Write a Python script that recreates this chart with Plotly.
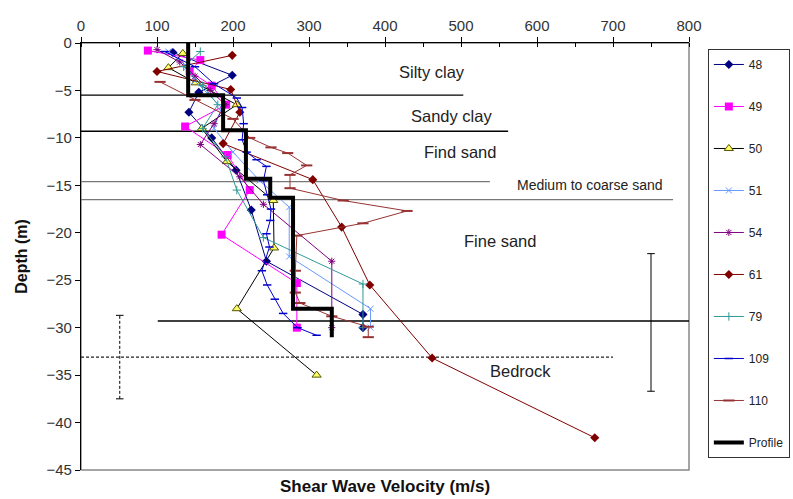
import plotly.graph_objects as go

# ---- measured shear wave velocity profiles (velocity m/s, depth m) ----
v48 = [121, 199, 155, 142, 172, 204, 224, 244, 371, 371]
d48 = [-1.0, -3.4, -5.2, -7.3, -10.0, -13.4, -17.6, -23.0, -28.6, -30.0]

v49 = [88, 157, 143, 172, 191, 137, 193, 222, 185, 284, 284]
d49 = [-0.8, -1.8, -3.0, -4.5, -6.5, -8.8, -11.8, -15.5, -20.2, -25.3, -30.0]

v50 = [134, 115, 151, 205, 159, 192, 253, 254, 205, 310]
d50 = [-1.1, -2.6, -4.2, -6.5, -9.0, -12.5, -16.6, -21.6, -28.0, -35.0]

v51 = [115, 140, 150, 185, 175, 200, 235, 274, 274, 381, 381]
d51 = [-0.9, -2.5, -4.0, -6.8, -9.0, -11.5, -14.5, -17.3, -22.5, -28.0, -30.0]

v54 = [100, 130, 150, 170, 190, 175, 157, 209, 240, 330, 330]
d54 = [-0.7, -2.0, -3.5, -5.0, -6.5, -8.5, -10.7, -14.1, -17.0, -23.0, -30.0]

v61 = [199, 100, 197, 209, 187, 305, 343, 380, 462, 676]
d61 = [-1.3, -3.0, -4.9, -7.3, -10.6, -14.4, -19.4, -25.5, -33.2, -41.6]

v79 = [157, 135, 160, 180, 160, 190, 205, 240, 371, 371]
d79 = [-0.9, -2.5, -4.5, -6.5, -9.0, -12.0, -15.5, -20.5, -25.4, -30.0]

v109 = [110, 150, 175, 205, 212, 214, 212, 218, 231, 244, 240, 245, 250, 249,
        244, 248, 238, 245, 255, 266, 285, 310]
d109 = [-0.9, -2.5, -4.3, -5.8, -6.8, -8.5, -10.2, -11.5, -12.3, -13.0, -14.5,
        -16.0, -17.5, -18.7, -20.1, -21.5, -24.0, -25.5, -27.0, -28.5, -30.0, -30.8]

v110 = [104, 150, 200, 222, 250, 272, 297, 275, 275, 345, 429, 371, 284, 282,
        282, 288, 330, 378, 378]
d110 = [-4.1, -6.0, -8.0, -10.0, -11.0, -11.6, -12.9, -13.9, -15.3, -16.6, -17.7,
        -19.0, -20.3, -24.0, -26.3, -27.4, -28.8, -29.9, -31.0]

# ---- interpreted profile: layer velocities and layer tops ----
profile_vel = [141, 187, 217, 249, 279, 330]
profile_top = [0, -5.5, -9.2, -14.3, -16.3, -28.0]
profile_base = -31.0

# ---- layer boundaries: depth, horizontal extent, style ----
bound_depth = [-5.5, -9.3, -14.6, -16.5, -29.3, -33.1]
bound_x0 = [0, 0, 0, 0, 101, 0]
bound_x1 = [503, 562, 538, 779, 800, 700]
bound_color = ["#000000", "#000000", "#777777", "#777777", "#000000", "#222222"]
bound_dash = ["solid", "solid", "solid", "solid", "solid", "3px,2px"]

# ---- layer names ----
layer_names = ["Silty clay", "Sandy clay", "Find sand", "Medium to coarse sand",
               "Fine sand", "Bedrock"]
layer_label_v = [462, 488, 499, 670, 551, 578]
layer_label_d = [-3.1, -7.7, -11.5, -15.0, -20.9, -34.6]
layer_label_size = [16.5, 16.5, 16.5, 14, 16.5, 16.5]

# ---- depth uncertainty bars (velocity, centre depth, half range) ----
bar_v = [51, 750]
bar_d = [-33.1, -29.45]
bar_half = [4.4, 7.25]
bar_dash = ["3px,2px", "solid"]

FONT = "Liberation Sans, Arial, sans-serif"

series = [
    ("48", v48, d48, "#000080", dict(symbol="diamond", size=7, color="#000080")),
    ("49", v49, d49, "#FF00FF", dict(symbol="square", size=8, color="#FF00FF")),
    ("50", v50, d50, "#000000", dict(symbol="triangle-up", size=8, color="#FFFF66",
                                     line=dict(color="#555500", width=1))),
    ("51", v51, d51, "#6699FF", dict(symbol="x-thin-open", size=6, color="#6699FF",
                                     line=dict(color="#6699FF", width=1))),
    ("54", v54, d54, "#800080", dict(symbol="asterisk-open", size=6, color="#800080",
                                     line=dict(color="#800080", width=1))),
    ("61", v61, d61, "#800000", dict(symbol="diamond", size=7, color="#800000")),
    ("79", v79, d79, "#339999", dict(symbol="cross-thin-open", size=6, color="#339999",
                                     line=dict(color="#339999", width=1))),
    ("109", v109, d109, "#0000CC", dict(symbol="line-ew-open", size=6, color="#0000CC",
                                        line=dict(color="#0000CC", width=1.5))),
    ("110", v110, d110, "#993333", dict(symbol="line-ew-open", size=8, color="#993333",
                                        line=dict(color="#993333", width=2))),
]

fig = go.Figure()

# layer boundary lines
for dep, x0, x1, col, dash in zip(bound_depth, bound_x0, bound_x1, bound_color, bound_dash):
    fig.add_trace(go.Scatter(x=[x0, x1], y=[dep, dep], mode="lines",
                             line=dict(color=col, width=1.3, dash=dash),
                             showlegend=False, hoverinfo="skip"))

# uncertainty bars with end caps
for bv, bd, bh, dash in zip(bar_v, bar_d, bar_half, bar_dash):
    fig.add_trace(go.Scatter(x=[bv, bv], y=[bd - bh, bd + bh], mode="lines",
                             line=dict(color="#000000", width=1, dash=dash),
                             showlegend=False, hoverinfo="skip"))
    for cap in (bd - bh, bd + bh):
        fig.add_trace(go.Scatter(x=[bv - 5, bv + 5], y=[cap, cap], mode="lines",
                                 line=dict(color="#000000", width=1),
                                 showlegend=False, hoverinfo="skip"))

# measured profiles
for name, v, d, col, mk in series:
    fig.add_trace(go.Scatter(x=v, y=d, mode="lines+markers", name=name,
                             legendgroup=name, line=dict(color=col, width=1),
                             marker=mk))

# step profile built from layer velocities / tops
px, py = [], []
tops = profile_top + [profile_base]
for i, vel in enumerate(profile_vel):
    px += [vel, vel]
    py += [tops[i], tops[i + 1]]
fig.add_trace(go.Scatter(x=px, y=py, mode="lines", name="Profile", legendgroup="Profile",
                         line=dict(color="#000000", width=4)))

# layer names
for txt, lv, ld, fs in zip(layer_names, layer_label_v, layer_label_d, layer_label_size):
    fig.add_annotation(x=lv, y=ld, text=txt, showarrow=False,
                       font=dict(family=FONT, size=fs, color="#222222"))

# frame of plot area (right and bottom edges grey)
fig.add_shape(type="rect", xref="paper", yref="paper", x0=0, y0=0, x1=1, y1=1,
              line=dict(color="#888888", width=1.5), layer="below")

fig.add_annotation(xref="paper", yref="paper", x=0.5, y=0, yshift=-28,
                   text="<b>Shear Wave Velocity (m/s)</b>", showarrow=False,
                   font=dict(family=FONT, size=17, color="#111111"))

fig.update_layout(
    width=793, height=499,
    margin=dict(l=81, r=104, t=43, b=29, autoexpand=False),
    paper_bgcolor="white", plot_bgcolor="white",
    font=dict(family=FONT, size=13, color="#222222"),
    xaxis=dict(range=[0, 800], side="top", dtick=100, tick0=0,
               showgrid=False, zeroline=False, showline=True, linecolor="#000000",
               linewidth=1.3, ticks="outside", ticklen=5, tickcolor="#000000",
               minor=dict(dtick=50, ticks="inside", ticklen=4, tickcolor="#000000"),
               tickfont=dict(family=FONT, size=15, color="#333333")),
    yaxis=dict(range=[-45, 0], dtick=5, showgrid=False, zeroline=False,
               showline=True, linecolor="#000000", linewidth=1.3,
               ticks="outside", ticklen=5, tickcolor="#000000",
               tickfont=dict(family=FONT, size=15, color="#333333"),
               title=dict(text="<b>Depth (m)</b>", standoff=14,
                          font=dict(family=FONT, size=16, color="#111111"))),
    legend=dict(x=1.031, y=0.986, xanchor="left", yanchor="top",
                bordercolor="#333333", borderwidth=1, bgcolor="white",
                tracegroupgap=23.0, font=dict(family=FONT, size=12, color="#222222")),
    showlegend=True,
)

fig.write_html("out.html")
